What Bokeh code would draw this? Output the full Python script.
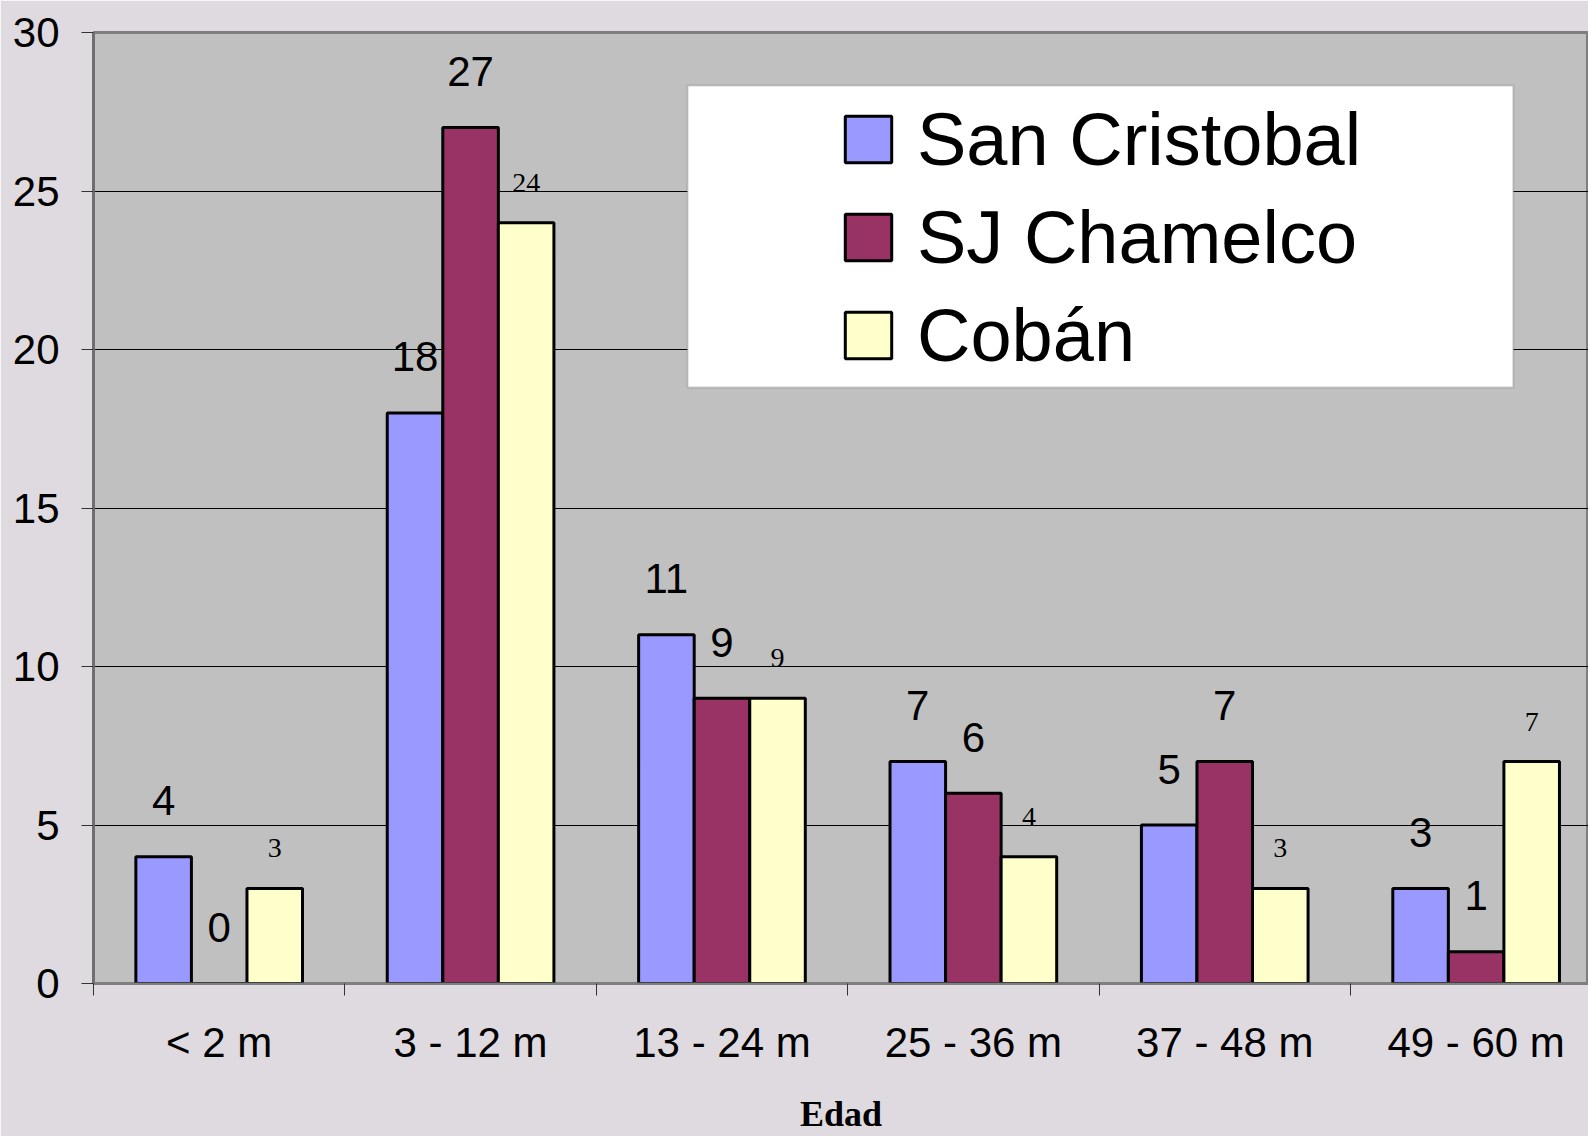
import numpy as np
from bokeh.plotting import figure
from bokeh.models import (Range1d, FixedTicker, Legend, LegendItem, BoxAnnotation,
                          ColumnDataSource)
from bokeh.core.properties import value
from bokeh.embed import file_html
from bokeh.resources import INLINE

categories = ["< 2 m", "3 - 12 m", "13 - 24 m", "25 - 36 m", "37 - 48 m", "49 - 60 m"]
san_cristobal = [4, 18, 11, 7, 5, 3]
sj_chamelco = [0, 27, 9, 6, 7, 1]
coban = [3, 24, 9, 4, 3, 7]
series_names = ["San Cristobal", "SJ Chamelco", "Cobán"]
series_colors = ["#9999FF", "#993366", "#FFFFCC"]
y_ticks = [0, 5, 10, 15, 20, 25, 30]
x_title = "Edad"

X_END = 5.947
BAR_W = 0.221
SANS = value("Liberation Sans")
SERIF = value("Liberation Serif")

p = figure(width=1588, height=1136, x_range=Range1d(0, X_END), y_range=Range1d(0, 30),
           output_backend="svg", toolbar_location=None,
           min_border_left=93, min_border_top=32, min_border_right=0, min_border_bottom=153)
p.background_fill_color = "#c0c0c0"
p.border_fill_color = "#dedadf"
p.outline_line_color = "#7f7f7f"
p.outline_line_width = 3

centers = np.arange(len(categories)) + 0.5
bounds = list(np.arange(len(categories) + 1).astype(float))

# y axis
p.yaxis.ticker = FixedTicker(ticks=y_ticks)
p.yaxis.major_tick_out = 12
p.yaxis.major_tick_in = 0
p.yaxis.minor_tick_line_color = None
p.yaxis.major_tick_line_color = "#333333"
p.yaxis.axis_line_color = "#6f6f6f"
p.yaxis.axis_line_width = 3
p.yaxis.major_label_text_font = "Liberation Sans"
p.yaxis.major_label_text_font_size = "42px"
p.yaxis.major_label_text_color = "black"
p.yaxis.major_label_standoff = 22

# x axis
p.xaxis.ticker = FixedTicker(ticks=list(centers), minor_ticks=bounds)
p.xaxis.major_label_overrides = {float(c): lab for c, lab in zip(centers, categories)}
p.xaxis.major_tick_line_color = None
p.xaxis.major_tick_out = 0
p.xaxis.major_tick_in = 0
p.xaxis.minor_tick_out = 12
p.xaxis.minor_tick_in = 0
p.xaxis.minor_tick_line_color = "#333333"
p.xaxis.axis_line_color = "#7f7f7f"
p.xaxis.axis_line_width = 2
p.xaxis.major_label_text_font = "Liberation Sans"
p.xaxis.major_label_text_font_size = "42px"
p.xaxis.major_label_text_color = "black"
p.xaxis.major_label_text_line_height = 1.0
p.xaxis.major_label_standoff = 23
p.xaxis.axis_label = x_title
p.xaxis.axis_label_text_font = "Liberation Serif"
p.xaxis.axis_label_text_font_style = "bold"
p.xaxis.axis_label_text_font_size = "36px"
p.xaxis.axis_label_text_color = "black"
p.xaxis.axis_label_text_line_height = 1.0
p.xaxis.axis_label_text_baseline = "alphabetic"
p.xaxis.axis_label_standoff = 25

p.ygrid.grid_line_color = "black"
p.ygrid.grid_line_width = 1
p.xgrid.grid_line_color = None

all_series = [san_cristobal, sj_chamelco, coban]
offsets = [-BAR_W, 0.0, BAR_W]
renderers = []
for vals, off, col in zip(all_series, offsets, series_colors):
    src = ColumnDataSource(dict(x=centers + off, top=vals, lab=[str(v) for v in vals]))
    r = p.vbar(x="x", top="top", width=BAR_W, source=src, fill_color=col,
               line_color="black", line_width=3)
    renderers.append((r, src))

# value labels
for i, (r, src) in enumerate(renderers):
    if i < 2:
        p.text(x="x", y="top", text="lab", source=src, text_font=SANS, text_font_size="42px",
               text_align="center", text_baseline="alphabetic", y_offset=-56, text_color="black")
    else:
        p.text(x="x", y="top", text="lab", source=src, text_font=SERIF, text_font_size="28px",
               text_align="center", text_baseline="alphabetic", y_offset=-40, text_color="black")

# legend box
box = BoxAnnotation(left=2.363, right=5.648, top=28.33, bottom=18.80,
                    fill_color="white", fill_alpha=1.0, line_color="#666666", line_width=2)
p.add_layout(box)

legend = Legend(items=[LegendItem(label=n, renderers=[r]) for n, (r, s) in zip(series_names, renderers)],
                location=(746, 599), border_line_alpha=0, background_fill_alpha=0,
                padding=0, margin=0, glyph_width=58, glyph_height=58, label_height=98,
                spacing=0, label_standoff=20, label_text_font="Liberation Sans",
                label_text_font_size="74px", label_text_color="black")
p.add_layout(legend)

open("out.html", "w").write(file_html(p, INLINE))
